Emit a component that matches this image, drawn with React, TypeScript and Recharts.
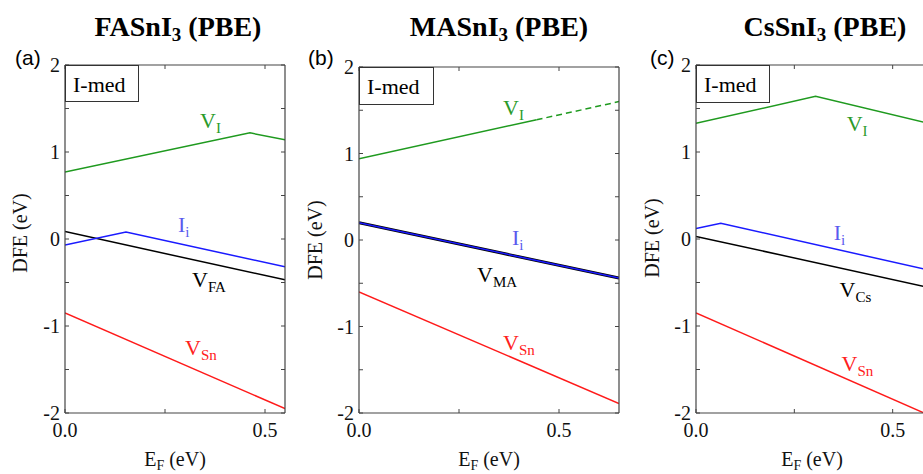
import React from "react";
import { LineChart, Line, XAxis, YAxis, ReferenceDot } from "recharts";

const SERIF = "'Liberation Serif', 'Times New Roman', serif";
const SANS = "'Liberation Sans', Arial, sans-serif";

const GREEN = "#1f9a1f";
const BLUE = "#1a1aff";
const BLACK = "#000000";
const RED = "#ff1a1a";
const GREEN_TXT = "#2a9a2a";
const BLUE_TXT = "#5a5aee";
const RED_TXT = "#ff2020";

// ---------- data ----------
const yTicks = [-2, -1.5, -1, -0.5, 0, 0.5, 1, 1.5, 2];
const xTicks = [0, 0.25, 0.5];

// (a) FASnI3
const faVI = [{ x: 0, y: 0.77 }, { x: 0.4625, y: 1.22 }, { x: 0.55, y: 1.14 }];
const faIi = [{ x: 0, y: -0.07 }, { x: 0.1525, y: 0.08 }, { x: 0.55, y: -0.32 }];
const faVFA = [{ x: 0, y: 0.085 }, { x: 0.55, y: -0.47 }];
const faVSn = [{ x: 0, y: -0.85 }, { x: 0.55, y: -1.95 }];

// (b) MASnI3
const maVIsolid = [{ x: 0, y: 0.94 }, { x: 0.444, y: 1.39 }];
const maVIdash = [{ x: 0.444, y: 1.39 }, { x: 0.65, y: 1.6 }];
const maIi = [{ x: 0, y: 0.2 }, { x: 0.65, y: -0.44 }];
const maVMA = [{ x: 0, y: 0.2 }, { x: 0.65, y: -0.44 }];
const maVSn = [{ x: 0, y: -0.6 }, { x: 0.65, y: -1.89 }];

// (c) CsSnI3
const csVI = [{ x: 0, y: 1.33 }, { x: 0.304, y: 1.64 }, { x: 0.59, y: 1.33 }];
const csIi = [{ x: 0, y: 0.12 }, { x: 0.063, y: 0.18 }, { x: 0.59, y: -0.355 }];
const csVCs = [{ x: 0, y: 0.03 }, { x: 0.59, y: -0.555 }];
const csVSn = [{ x: 0, y: -0.85 }, { x: 0.58, y: -2.0 }];

type Pt = { x: number; y: number };
type SeriesDef = { data: Pt[]; color: string; width?: number; dash?: string };
type LabelDef = { x: number; y: number; main: string; sub: string; color: string };

const panels = [
  {
    left: 0, width: 300, marginLeft: 64, marginRight: 14, top: 64, bottom: 60,
    xMax: 0.55,
    series: [
      { data: faVI, color: GREEN },
      { data: faVFA, color: BLACK },
      { data: faIi, color: BLUE },
      { data: faVSn, color: RED },
    ] as SeriesDef[],
    labels: [
      { x: 0.3375, y: 1.276, main: "V", sub: "I", color: GREEN_TXT },
      { x: 0.2825, y: 0.08, main: "I", sub: "i", color: BLUE_TXT },
      { x: 0.3175, y: -0.55, main: "V", sub: "FA", color: BLACK },
      { x: 0.3, y: -1.33, main: "V", sub: "Sn", color: RED_TXT },
    ] as LabelDef[],
  },
  {
    left: 300, width: 330, marginLeft: 58, marginRight: 10, top: 66, bottom: 60,
    xMax: 0.65,
    series: [
      { data: maVIsolid, color: GREEN },
      { data: maVIdash, color: GREEN, dash: "6 4" },
      { data: maVMA, color: BLACK, width: 3 },
      { data: maIi, color: BLUE },
      { data: maVSn, color: RED },
    ] as SeriesDef[],
    labels: [
      { x: 0.36, y: 1.445, main: "V", sub: "I", color: GREEN_TXT },
      { x: 0.3825, y: -0.06, main: "I", sub: "i", color: BLUE_TXT },
      { x: 0.295, y: -0.485, main: "V", sub: "MA", color: BLACK },
      { x: 0.36, y: -1.27, main: "V", sub: "Sn", color: RED_TXT },
    ] as LabelDef[],
  },
  {
    left: 630, width: 330, marginLeft: 65, marginRight: 27, top: 64, bottom: 60,
    xMax: 0.6,
    series: [
      { data: csVI, color: GREEN },
      { data: csVCs, color: BLACK },
      { data: csIi, color: BLUE },
      { data: csVSn, color: RED },
    ] as SeriesDef[],
    labels: [
      { x: 0.383, y: 1.244, main: "V", sub: "I", color: GREEN_TXT },
      { x: 0.35, y: -0.014, main: "I", sub: "i", color: BLUE_TXT },
      { x: 0.365, y: -0.67, main: "V", sub: "Cs", color: BLACK },
      { x: 0.37, y: -1.52, main: "V", sub: "Sn", color: RED_TXT },
    ] as LabelDef[],
  },
];

const AXIS = "#444";
const tickStyle = { fontSize: 20, fontFamily: SERIF, fill: "#111" };

const fmtX = (v: number) => (v === 0 ? "0.0" : v === 0.5 ? "0.5" : "");
const fmtY = (v: number) => (Number.isInteger(v) ? String(v) : "");

function Panel({ p }: { p: (typeof panels)[number] }) {
  return (
    <div style={{ position: "absolute", left: p.left, top: 0 }}>
      <LineChart
        width={p.width}
        height={474}
        margin={{ left: p.marginLeft, right: p.marginRight, top: p.top, bottom: p.bottom }}
      >
        <XAxis
          xAxisId="bottom"
          type="number"
          dataKey="x"
          domain={[0, p.xMax]}
          allowDataOverflow
          ticks={xTicks}
          tickFormatter={fmtX}
          height={1}
          tickSize={-4}
          tickMargin={14}
          axisLine={{ stroke: AXIS, strokeWidth: 1.2 }}
          tickLine={{ stroke: AXIS }}
          tick={tickStyle}
          interval={0}
        />
        <XAxis
          xAxisId="top"
          orientation="top"
          type="number"
          dataKey="x"
          domain={[0, p.xMax]}
          allowDataOverflow
          ticks={xTicks}
          tickFormatter={() => ""}
          height={1}
          tickSize={-4}
          axisLine={{ stroke: AXIS, strokeWidth: 1.2 }}
          tickLine={{ stroke: AXIS }}
          interval={0}
        />
        <YAxis
          yAxisId="left"
          type="number"
          domain={[-2, 2]}
          allowDataOverflow
          ticks={yTicks}
          tickFormatter={fmtY}
          width={1}
          tickSize={-4}
          tickMargin={9}
          axisLine={{ stroke: AXIS, strokeWidth: 1.2 }}
          tickLine={{ stroke: AXIS }}
          tick={tickStyle}
          interval={0}
        />
        <YAxis
          yAxisId="right"
          orientation="right"
          type="number"
          domain={[-2, 2]}
          allowDataOverflow
          ticks={yTicks}
          tickFormatter={() => ""}
          width={1}
          tickSize={-4}
          axisLine={{ stroke: AXIS, strokeWidth: 1.2 }}
          tickLine={{ stroke: AXIS }}
          interval={0}
        />
        {p.series.map((s, i) => (
          <Line
            key={i}
            xAxisId="bottom"
            yAxisId="left"
            data={s.data}
            dataKey="y"
            type="linear"
            dot={false}
            activeDot={false}
            stroke={s.color}
            strokeWidth={s.width ?? 1.5}
            strokeDasharray={s.dash}
            isAnimationActive={false}
          />
        ))}
        {p.labels.map((l, i) => (
          <ReferenceDot
            key={"l" + i}
            xAxisId="bottom"
            yAxisId="left"
            x={l.x}
            y={l.y}
            r={0}
            shape={(props: any) => (
              <text x={props.cx} y={props.cy} fill={l.color} fontFamily={SERIF} fontSize={22}>
                <tspan>{l.main}</tspan>
                <tspan fontSize={15} dy={5}>{l.sub}</tspan>
              </text>
            )}
          />
        ))}
      </LineChart>
    </div>
  );
}

const titles = [
  { cx: 178, main: "FASnI", letter: "(a)", lx: 15 },
  { cx: 499, main: "MASnI", letter: "(b)", lx: 308 },
  { cx: 825, main: "CsSnI", letter: "(c)", lx: 650 },
];
const yLabels = [
  { x: 20, y: 233 },
  { x: 315, y: 240 },
  { x: 652, y: 238 },
];
const xLabels = [175, 489, 812];
const boxes = [
  { x: 65, y: 65, w: 73, h: 36 },
  { x: 359, y: 67, w: 74, h: 37 },
  { x: 696, y: 65, w: 73, h: 37 },
];

export default function App() {
  return (
    <div
      style={{
        position: "absolute",
        left: 0,
        top: 0,
        width: 923,
        height: 474,
        overflow: "hidden",
        background: "#fff",
      }}
    >
      {panels.map((p, i) => (
        <Panel key={i} p={p} />
      ))}
      <svg
        width={923}
        height={474}
        style={{ position: "absolute", left: 0, top: 0, pointerEvents: "none" }}
      >
        {titles.map((t, i) => (
          <g key={i}>
            <text
              x={t.cx}
              y={36}
              textAnchor="middle"
              fontFamily={SERIF}
              fontWeight="bold"
              fontSize={28}
              fill="#000"
            >
              <tspan>{t.main}</tspan>
              <tspan fontSize={19} dy={5}>3</tspan>
              <tspan dy={-5}> (PBE)</tspan>
            </text>
            <text x={t.lx} y={65} fontFamily={SANS} fontSize={21} fill="#000">
              {t.letter}
            </text>
          </g>
        ))}
        {yLabels.map((l, i) => (
          <text
            key={"y" + i}
            x={l.x}
            y={l.y}
            transform={`rotate(-90 ${l.x} ${l.y})`}
            textAnchor="middle"
            dominantBaseline="central"
            fontFamily={SERIF}
            fontSize={20}
            fill="#111"
          >
            DFE (eV)
          </text>
        ))}
        {xLabels.map((cx, i) => (
          <text
            key={"x" + i}
            x={cx}
            y={466}
            textAnchor="middle"
            fontFamily={SERIF}
            fontSize={20}
            fill="#111"
          >
            <tspan>E</tspan>
            <tspan fontSize={14} dy={4}>F</tspan>
            <tspan dy={-4}> (eV)</tspan>
          </text>
        ))}
        {boxes.map((b, i) => (
          <g key={"b" + i}>
            <rect x={b.x + 0.5} y={b.y + 0.5} width={b.w} height={b.h} fill="#fff" stroke="#333" strokeWidth={1} />
            <text x={b.x + 8} y={b.y + 27} fontFamily={SERIF} fontSize={22} fill="#000">
              I-med
            </text>
          </g>
        ))}
      </svg>
    </div>
  );
}
